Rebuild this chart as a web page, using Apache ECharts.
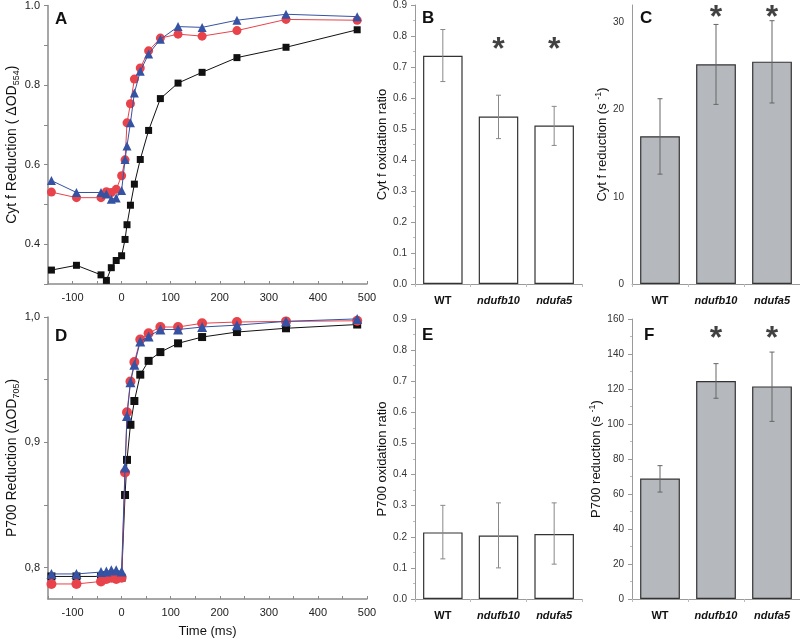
<!DOCTYPE html>
<html>
<head>
<meta charset="utf-8">
<script src="https://cdn.jsdelivr.net/npm/echarts@6/dist/echarts.min.js"></script>
<style>html,body{margin:0;padding:0;background:#fff}#c{width:800px;height:643px}</style>
</head>
<body>
<div id="c"></div>
<script>
// ---------- data ----------
const timeMs = [-143, -92, -42, -31, -21, -11, 0, 7, 11, 18, 26, 38, 55, 79, 115, 164, 235, 335, 480];
const xLabelTicks = [-100, 0, 100, 200, 300, 400, 500];
const xMinorTicks = [-150, -100, -50, 0, 50, 100, 150, 200, 250, 300, 350, 400, 450, 500];

// Panel A: Cyt f reduction
const cytfBlack = [0.335, 0.347, 0.323, 0.309, 0.341, 0.359, 0.371, 0.412, 0.449, 0.498, 0.551, 0.613, 0.686, 0.766, 0.805, 0.832, 0.869, 0.895, 0.939];
const cytfRed   = [0.531, 0.517, 0.517, 0.532, 0.530, 0.538, 0.572, 0.612, 0.705, 0.753, 0.815, 0.843, 0.886, 0.918, 0.928, 0.923, 0.937, 0.965, 0.963];
const cytfBlue  = [0.560, 0.530, 0.530, 0.526, 0.513, 0.516, 0.535, 0.613, 0.647, 0.705, 0.780, 0.835, 0.878, 0.915, 0.947, 0.945, 0.963, 0.978, 0.972];
const aYLabels = [0.4, 0.6, 0.8, 1.0];
const aYTicks = [0.3, 0.4, 0.5, 0.6, 0.7, 0.8, 0.9, 1.0];

// Panel D: P700 reduction
const p700Black = [0.793, 0.793, 0.793, 0.794, 0.794, 0.794, 0.792, 0.858, 0.886, 0.914, 0.933, 0.954, 0.965, 0.972, 0.979, 0.984, 0.988, 0.991, 0.994];
const p700Red   = [0.787, 0.787, 0.789, 0.791, 0.792, 0.791, 0.792, 0.876, 0.924, 0.9485, 0.964, 0.982, 0.987, 0.992, 0.992, 0.995, 0.996, 0.9965, 0.997];
const p700Blue  = [0.795, 0.795, 0.7965, 0.797, 0.798, 0.798, 0.797, 0.880, 0.921, 0.948, 0.962, 0.9805, 0.9845, 0.990, 0.990, 0.992, 0.9935, 0.9965, 0.9985];
const dYLabels = [0.8, 0.9, 1.0];
const dYTicks = [0.8, 0.85, 0.9, 0.95, 1.0];

// Bar panels
const genotypes = ['WT', 'ndufb10', 'ndufa5'];
const cytfOxRatio = [0.736, 0.540, 0.511];
const cytfOxLow   = [0.653, 0.469, 0.447];
const cytfOxHigh  = [0.821, 0.609, 0.573];
const cytfOxStars = [null, 0.775, 0.775];

const cytfRate     = [16.95, 25.2, 25.5];
const cytfRateLow  = [12.6, 20.6, 20.76];
const cytfRateHigh = [21.25, 29.77, 30.2];
const cytfRateStars = [null, 31.2, 31.2];
const cYLabels = [0, 10, 20, 30];
const cYTicks = [0, 5, 10, 15, 20, 25, 30];

const p700OxRatio = [0.214, 0.204, 0.209];
const p700OxLow   = [0.129, 0.100, 0.112];
const p700OxHigh  = [0.301, 0.309, 0.309];

const p700Rate     = [68.8, 124.6, 121.5];
const p700RateLow  = [61.1, 114.7, 101.5];
const p700RateHigh = [76.2, 134.5, 141.1];
const p700RateStars = [null, 152, 152];

// ---------- helpers ----------
const FONT = 'Arial, "Liberation Sans", sans-serif';
const zip = (xs, ys) => xs.map((x, i) => [x, ys[i]]);
const errData = (lo, hi) => lo.map((l, i) => [i, l, hi[i]]);
const starData = (s) => s.map((v, i) => v == null ? null : [i, v]).filter(d => d);

function errRender(color) {
  return function (params, api) {
    const x = api.value(0);
    const pLo = api.coord([x, api.value(1)]);
    const pHi = api.coord([x, api.value(2)]);
    const cap = 2.5;
    const st = { stroke: color, lineWidth: 1 };
    return { type: 'group', children: [
      { type: 'line', shape: { x1: pLo[0], y1: pLo[1], x2: pHi[0], y2: pHi[1] }, style: st },
      { type: 'line', shape: { x1: pLo[0] - cap, y1: pLo[1], x2: pLo[0] + cap, y2: pLo[1] }, style: st },
      { type: 'line', shape: { x1: pHi[0] - cap, y1: pHi[1], x2: pHi[0] + cap, y2: pHi[1] }, style: st }
    ]};
  };
}

const lineAxisLine = { show: true, onZero: false, lineStyle: { color: '#8a8a8a', width: 1.5 } };
function lineXAxis(gi, name) {
  return {
    type: 'value', gridIndex: gi, min: -150, max: 500,
    axisLine: lineAxisLine, splitLine: { show: false },
    axisTick: { customValues: xMinorTicks, inside: true, length: 3, lineStyle: { color: '#8a8a8a' } },
    axisLabel: { customValues: xLabelTicks, color: '#222', fontSize: 11, fontFamily: FONT, margin: 8 },
    name: name || '', nameLocation: 'middle', nameGap: 26,
    nameTextStyle: { color: '#111', fontSize: 13, fontFamily: FONT }
  };
}
function lineYAxis(gi, min, labels, ticks, fmt, name, gap) {
  return {
    type: 'value', gridIndex: gi, min: min, max: 1.0,
    axisLine: lineAxisLine, splitLine: { show: false },
    axisTick: { customValues: ticks, length: 4, lineStyle: { color: '#8a8a8a' } },
    axisLabel: { customValues: labels, color: '#222', fontSize: 11, fontFamily: FONT, formatter: fmt },
    name: name, nameLocation: 'middle', nameGap: gap,
    nameTextStyle: { color: '#111', fontSize: 14, fontFamily: FONT,
      rich: { sub: { fontSize: 9, fontFamily: FONT, color: '#111', padding: [8, 0, 0, 0] } } }
  };
}
function barXAxis(gi) {
  return {
    type: 'category', gridIndex: gi, data: genotypes,
    axisLine: { onZero: false, lineStyle: { color: '#9a9a9a', width: 1 } },
    axisTick: { show: true, length: 3, lineStyle: { color: '#bbb' } },
    axisLabel: { interval: 0, hideOverlap: false, margin: 11, fontFamily: FONT,
      formatter: (v) => v === 'WT' ? '{n|' + v + '}' : '{i|' + v + '}',
      rich: { n: { fontWeight: 'bold', fontSize: 11, color: '#111', fontFamily: FONT },
              i: { fontWeight: 'bold', fontStyle: 'italic', fontSize: 11, color: '#111', fontFamily: FONT } } }
  };
}
function barYAxis(gi, opts, name, gap) {
  return Object.assign({
    type: 'value', gridIndex: gi,
    axisLine: { show: true, onZero: false, lineStyle: { color: '#9a9a9a', width: 1 } },
    splitLine: { show: false },
    axisTick: { show: true, length: 4, lineStyle: { color: '#9a9a9a' } },
    minorTick: { show: true, splitNumber: 2, length: 2, lineStyle: { color: '#bbb' } },
    axisLabel: { color: '#333', fontSize: 10, fontFamily: FONT },
    name: name, nameLocation: 'middle', nameGap: gap,
    nameTextStyle: { color: '#111', fontSize: 13, fontFamily: FONT,
      rich: { sup: { fontSize: 9, fontFamily: FONT, color: '#111', padding: [0, 0, 8, 0] } } }
  }, opts);
}
function lineSeries(xi, data, color, symbol, size, z) {
  return {
    type: 'line', xAxisIndex: xi, yAxisIndex: xi, data: data, symbol: symbol, symbolSize: size,
    showAllSymbol: true, z: z, animation: false,
    lineStyle: { color: color, width: 1 }, itemStyle: { color: color, borderWidth: 0, opacity: 1 }
  };
}
function barSeries(xi, data, fill) {
  return {
    type: 'bar', xAxisIndex: xi, yAxisIndex: xi, data: data, barWidth: '71%', animation: false,
    itemStyle: { color: fill, borderColor: '#333', borderWidth: 1.2 }
  };
}
function errSeries(xi, lo, hi, color) {
  return { type: 'custom', xAxisIndex: xi, yAxisIndex: xi, data: errData(lo, hi), renderItem: errRender(color), z: 5, animation: false };
}
function starSeries(xi, s) {
  return {
    type: 'scatter', xAxisIndex: xi, yAxisIndex: xi, data: starData(s), symbolSize: 1, animation: false,
    itemStyle: { color: 'rgba(0,0,0,0)' },
    label: { show: true, position: 'inside', formatter: '*', fontSize: 32, fontWeight: 'bold', color: '#111', fontFamily: FONT, offset: [0, 6] }
  };
}

const fmt1 = (v) => v.toFixed(1);
const fmtComma = (v) => v.toFixed(1).replace('.', ',');
const barLbl = { color: '#333', fontSize: 10, fontFamily: FONT };

const option = {
  backgroundColor: '#fff',
  animation: false,
  textStyle: { fontFamily: FONT },
  grid: [
    { left: 48, top: 5, width: 319, height: 279 },   // A
    { left: 48, top: 317, width: 319, height: 282 }, // D
    { left: 415, top: 5, width: 167, height: 279 },  // B
    { left: 632, top: 5, width: 168, height: 279 },  // C
    { left: 415, top: 319, width: 167, height: 280 },// E
    { left: 632, top: 319, width: 168, height: 280 } // F
  ],
  xAxis: [
    lineXAxis(0),
    lineXAxis(1, 'Time (ms)'),
    barXAxis(2), barXAxis(3), barXAxis(4), barXAxis(5)
  ],
  yAxis: [
    lineYAxis(0, 0.3, aYLabels, aYTicks, fmt1, 'Cyt f Reduction ( ΔOD{sub|554})', 27),
    lineYAxis(1, 0.775, dYLabels, dYTicks, fmtComma, 'P700 Reduction (ΔOD{sub|705})', 27),
    barYAxis(2, { min: 0, max: 0.9, interval: 0.1, axisLabel: Object.assign({ formatter: fmt1 }, barLbl) }, 'Cyt f oxidation ratio', 24),
    barYAxis(3, { min: 0, max: 32, axisTick: { customValues: cYTicks, length: 4, lineStyle: { color: '#9a9a9a' } }, minorTick: { show: false },
                  axisLabel: Object.assign({ customValues: cYLabels }, barLbl) }, 'Cyt f reduction (s {sup|-1})', 18),
    barYAxis(4, { min: 0, max: 0.9, interval: 0.1, axisLabel: Object.assign({ formatter: fmt1 }, barLbl) }, 'P700 oxidation ratio', 24),
    barYAxis(5, { min: 0, max: 160, interval: 20 }, 'P700 reduction (s {sup|-1})', 23)
  ],
  series: [
    lineSeries(0, zip(timeMs, cytfBlack), '#111111', 'rect', 7, 2),
    lineSeries(0, zip(timeMs, cytfRed), '#e8434b', 'circle', 9, 3),
    lineSeries(0, zip(timeMs, cytfBlue), '#3552a3', 'triangle', 9, 4),
    lineSeries(1, zip(timeMs, p700Black), '#111111', 'rect', 8, 2),
    lineSeries(1, zip(timeMs, p700Red), '#e8434b', 'circle', 10, 3),
    lineSeries(1, zip(timeMs, p700Blue), '#3552a3', 'triangle', 10, 4),

    barSeries(2, cytfOxRatio, '#ffffff'),
    errSeries(2, cytfOxLow, cytfOxHigh, '#888'),
    starSeries(2, cytfOxStars),

    barSeries(3, cytfRate, '#b5b8bc'),
    errSeries(3, cytfRateLow, cytfRateHigh, '#666'),
    starSeries(3, cytfRateStars),

    barSeries(4, p700OxRatio, '#ffffff'),
    errSeries(4, p700OxLow, p700OxHigh, '#888'),

    barSeries(5, p700Rate, '#b5b8bc'),
    errSeries(5, p700RateLow, p700RateHigh, '#666'),
    starSeries(5, p700RateStars)
  ],
  graphic: [
    { type: 'text', left: 55, top: 11, style: { text: 'A', font: 'bold 17px ' + FONT, fill: '#111' } },
    { type: 'text', left: 55, top: 328, style: { text: 'D', font: 'bold 17px ' + FONT, fill: '#111' } },
    { type: 'text', left: 422, top: 10, style: { text: 'B', font: 'bold 17px ' + FONT, fill: '#111' } },
    { type: 'text', left: 640, top: 10, style: { text: 'C', font: 'bold 17px ' + FONT, fill: '#111' } },
    { type: 'text', left: 422, top: 327, style: { text: 'E', font: 'bold 17px ' + FONT, fill: '#111' } },
    { type: 'text', left: 644, top: 327, style: { text: 'F', font: 'bold 17px ' + FONT, fill: '#111' } }
  ]
};

const chart = echarts.init(document.getElementById('c'), null, { renderer: 'canvas' });
chart.setOption(option);
</script>
</body>
</html>
